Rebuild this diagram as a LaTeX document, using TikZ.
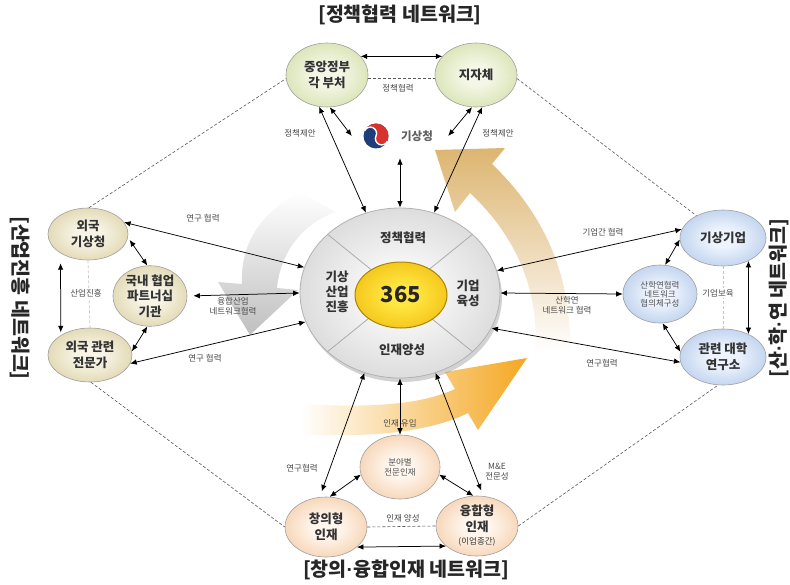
\documentclass[tikz,border=0pt]{standalone}
\usepackage{fontspec}
\setmainfont{Noto Sans CJK KR}
\newfontfamily\latinfont{Liberation Sans}
\usetikzlibrary{arrows.meta,shapes.geometric,shadows}

\definecolor{txt}{HTML}{333333}
\definecolor{lbltxt}{HTML}{4A4A4A}
\definecolor{gin}{HTML}{F4F7E6}
\definecolor{gout}{HTML}{C8D694}
\definecolor{tin}{HTML}{F7F4E6}
\definecolor{tout}{HTML}{D2C58E}
\definecolor{bin}{HTML}{EEF4FD}
\definecolor{bout}{HTML}{9FBBE4}
\definecolor{pin}{HTML}{FFF6EE}
\definecolor{pout}{HTML}{F0BE8E}
\definecolor{hin}{HTML}{F7F7F7}
\definecolor{hout}{HTML}{C6C6C6}
\definecolor{corey}{HTML}{ECAE00}
\definecolor{coreyl}{HTML}{FFE640}
\definecolor{corebd}{HTML}{A98500}
\definecolor{kblue}{HTML}{1E3D7B}
\definecolor{kred}{HTML}{D6332E}
\definecolor{tan}{HTML}{DDB570}
\definecolor{orng}{HTML}{F4A823}
\colorlet{ballin}{white}
\colorlet{ballout}{gray}

% soft radial fill: light centre, colour growing towards the rim
\pgfdeclareradialshading[ballin,ballout]{softball}{\pgfpoint{0bp}{0bp}}{%
  color(0bp)=(ballin); color(8bp)=(ballin); color(40bp)=(ballout); color(60bp)=(ballout)}

\begin{document}
\begin{tikzpicture}[x=1pt,y=-1pt,
  sz/.style 2 args={minimum width=#1pt, minimum height=#2pt},
  fillwith/.style 2 args={/utils/exec={\colorlet{ballin}{#1}\colorlet{ballout}{#2}}, shading=softball},
  net/.style={ellipse, draw=gray!75, line width=0.6pt, inner sep=0pt, align=center,
    font=\fontsize{12.5}{15.5}\selectfont\bfseries, text=txt},
  policy/.style={net, fillwith={gin}{gout}},
  industry/.style={net, fillwith={tin}{tout}},
  academy/.style={net, fillwith={bin}{bout}},
  talent/.style={net, fillwith={pin}{pout}},
  link/.style={{Latex[length=6.5pt,width=5.5pt]}-{Latex[length=6.5pt,width=5.5pt]}, line width=0.75pt, black},
  dline/.style={dash pattern=on 3pt off 2pt, draw=gray!70!black, line width=0.6pt},
  lightdash/.style={dash pattern=on 3pt off 2pt, draw=gray!45, line width=0.7pt},
  lbl/.style={font=\fontsize{8.5}{10}\selectfont, text=lbltxt, align=center, inner sep=1pt},
  hubtext/.style={font=\fontsize{12.5}{15}\selectfont\bfseries, text=txt, align=center, inner sep=0pt},
  title/.style={font=\fontsize{19.5}{22}\selectfont\bfseries, text=black!85, inner sep=0pt},
  divider/.style={draw=gray!65, line width=0.8pt}
]
\useasboundingbox (0,0) rectangle (790,584);
\fill[white] (0,0) rectangle (790,584);

% --- background circulation arrows ---
\shade[top color=white, bottom color=gray!50]
  (300,192) .. controls (265,210) and (240,240) .. (242,284)
  -- (218,282) -- (250,335) -- (298,290) -- (277,288)
  .. controls (280,255) and (300,225) .. (335,212) -- cycle;
\shade[top color=tan, bottom color=white]
  (435,150) -- (505,148) -- (492,164)
  .. controls (540,210) and (572,270) .. (570,352)
  -- (535,352) .. controls (540,290) and (515,235) .. (470,193)
  -- (455,212) -- cycle;
\shade[left color=white, right color=orng]
  (527,358) -- (478,430) -- (468,413)
  .. controls (430,432) and (370,438) .. (300,434)
  -- (300,404) .. controls (370,408) and (420,405) .. (455,389)
  -- (445,372) -- cycle;

% --- titles ---
\node[title] (ttop) at (400,15) {[정책협력 네트워크]};
\node[title] (tbot) at (406,570) {[창의{\latinfont ·}융합인재 네트워크]};
\node[title, rotate=-90] (tleft) at (20,298) {[산업진흥 네트워크]};
\node[title, rotate=90] (tright) at (779,298) {[산{\latinfont ·}학{\latinfont ·}연 네트워크]};

% --- hub ---
\node[ellipse, sz={200}{170}, draw=gray!60, line width=0.8pt, fillwith={hin}{hout},
      drop shadow={opacity=0.35, shadow xshift=2pt, shadow yshift=-4pt}] (hub) at (400,293) {};
\draw[divider] (hub.141) -- (hub.center);
\draw[divider] (hub.39) -- (hub.center);
\draw[divider] (hub.-141) -- (hub.center);
\draw[divider] (hub.-39) -- (hub.center);
\node[ellipse, sz={92}{66}, draw=corebd, line width=1pt, fillwith={coreyl}{corey},
      text=black!85, font=\fontsize{22}{24}\selectfont\bfseries] (core) at (401,295) {365};
\node[hubtext] (hubtop) at (403,238) {정책협력};
\node[hubtext] (hubleft) at (337,292) {기상\\산업\\진흥};
\node[hubtext] (hubright) at (468,293) {기업\\육성};
\node[hubtext] (hubbottom) at (402,350) {인재양성};

% --- policy network ---
\node[policy, sz={82}{64}] (gov) at (327,75) {중앙정부\\각 부처};
\node[policy, sz={82}{64}] (local) at (476,75) {지자체};
\node[minimum width=96pt, minimum height=30pt, inner sep=0pt] (kma) at (400,136) {};
\node[circle, minimum size=26pt, inner sep=0pt] (kmalogo) at (376,136) {};
\begin{scope}[shift={(kmalogo.center)}, x=1pt, y=1pt, rotate=-25]
  \fill[kblue] (0,0) circle (12.5);
  \fill[kred] (-12.5,0) arc[start angle=180, end angle=0, radius=12.5]
    arc[start angle=0, end angle=-180, radius=6.25]
    arc[start angle=0, end angle=180, radius=6.25] -- cycle;
  \draw[white, line width=1.4pt] (-12.5,0) arc[start angle=180, end angle=0, radius=6.25]
    arc[start angle=180, end angle=360, radius=6.25];
\end{scope}
\node[font=\fontsize{11.5}{13}\selectfont\bfseries, text=gray!75!black] (kmaname) at (417,136) {기상청};

\draw[link] (gov.29) -- (local.151);
\draw[dline] (gov.-5) -- (local.185);
\node[lbl] (lpolicy) at (398,88) {정책협력};
\draw[link] (gov.-104) -- (hub.113);
\draw[link] (gov.-85) -- (kma.west);
\draw[link] (local.-97) -- (kma.east);
\draw[link] (local.-79) -- (hub.67);
\draw[link, shorten <=7pt] (kma.south) -- (hub.north);
\node[lbl] (lprop1) at (300,133) {정책제안};
\node[lbl] (lprop2) at (498,133) {정책제안};

% --- industry network ---
\node[industry, sz={80}{52}] (fkma) at (88,234) {외국\\기상청};
\node[industry, sz={74}{60}] (dom) at (150,296) {국내 협업\\파트너십\\기관};
\node[industry, sz={84}{54}] (fexp) at (90,355) {외국 관련\\전문가};

\draw[link] (fkma.18) -- (hub.165);
\draw[link, shorten <=6pt] (dom.east) -- (hub.west);
\draw[link] (fexp.-12) -- (hub.-163);
\draw[link, shorten <=3pt] (fkma.-5) -- (dom.95);
\draw[link] (dom.-95) -- (fexp.5);
\draw[link, shorten <=10pt, shorten >=3pt] (fkma.-145) -- (fexp.146);
\draw[lightdash] (fkma.south) -- (fexp.north);
\node[lbl, fill=white] (lind) at (86,293) {산업진흥};
\node[lbl] (lres1) at (203,218) {연구 협력};
\node[lbl] (lconv) at (233,306) {융합산업\\네트워크협력};
\node[lbl] (lres2) at (205,358) {연구 협력};

% --- industry-academia-research network ---
\node[academy, sz={86}{56}] (firm) at (723,238) {기상기업};
\node[academy, sz={74}{58}, font=\fontsize{8.5}{9}\selectfont, text=txt!85] (iuc) at (660,294) {산학연협력\\네트워크\\협의체구성};
\node[academy, sz={86}{56}] (univ) at (723,357) {관련 대학\\연구소};

\draw[link] (hub.13) -- (firm.168);
\draw[link] (hub.east) -- (iuc.west);
\draw[link] (hub.-21) -- (univ.-173);
\draw[link] (firm.-178) -- (iuc.80);
\draw[link] (iuc.-85) -- (univ.173);
\draw[link] (firm.-42) -- (univ.42);
\draw[lightdash] (firm.south) -- (univ.north);
\node[lbl, fill=white] (lincub) at (718,293) {기업보육};
\node[lbl] (lcorp) at (603,232) {기업간 협력};
\node[lbl] (liuc) at (567,305) {산학연\\네트워크 협력};
\node[lbl] (lres3) at (602,363) {연구협력};

% --- creative and convergent talent network ---
\node[talent, sz={80}{64}, font=\fontsize{8.5}{10}\selectfont, text=txt!85] (field) at (400,467) {분야별\\전문인재};
\node[talent, sz={82}{60}] (crea) at (326,527) {창의형\\인재};
\node[talent, sz={82}{60}] (conv) at (477,526) {융합형\\인재\\[-2pt]{\fontsize{8.5}{9}\selectfont\mdseries(이업종간)}};

\draw[link, shorten >=6pt] (hub.-114) -- (crea.102);
\draw[link] (hub.south) -- (field.north);
\draw[link, shorten >=6pt] (hub.-66) -- (conv.78);
\draw[link] (field.-169) -- (crea.83);
\draw[link] (field.-11) -- (conv.97);
\draw[dline] (crea.east) -- (conv.west);
\draw[link] (crea.-33) -- (conv.-147);
\node[lbl] (linflow) at (400,423) {인재 유입};
\node[lbl] (lres4) at (302,468) {연구협력};
\node[lbl] (lme) at (497,472) {M\&E\\전문성};
\node[lbl] (ltrain) at (403,518) {인재 양성};

% --- outer ring between networks ---
\draw[dline] (fkma.88) -- (gov.-175);
\draw[dline] (local.-5) -- (firm.140);
\draw[dline] (fexp.-88) -- (crea.180);
\draw[dline] (conv.0) -- (univ.-100);
\end{tikzpicture}
\end{document}
